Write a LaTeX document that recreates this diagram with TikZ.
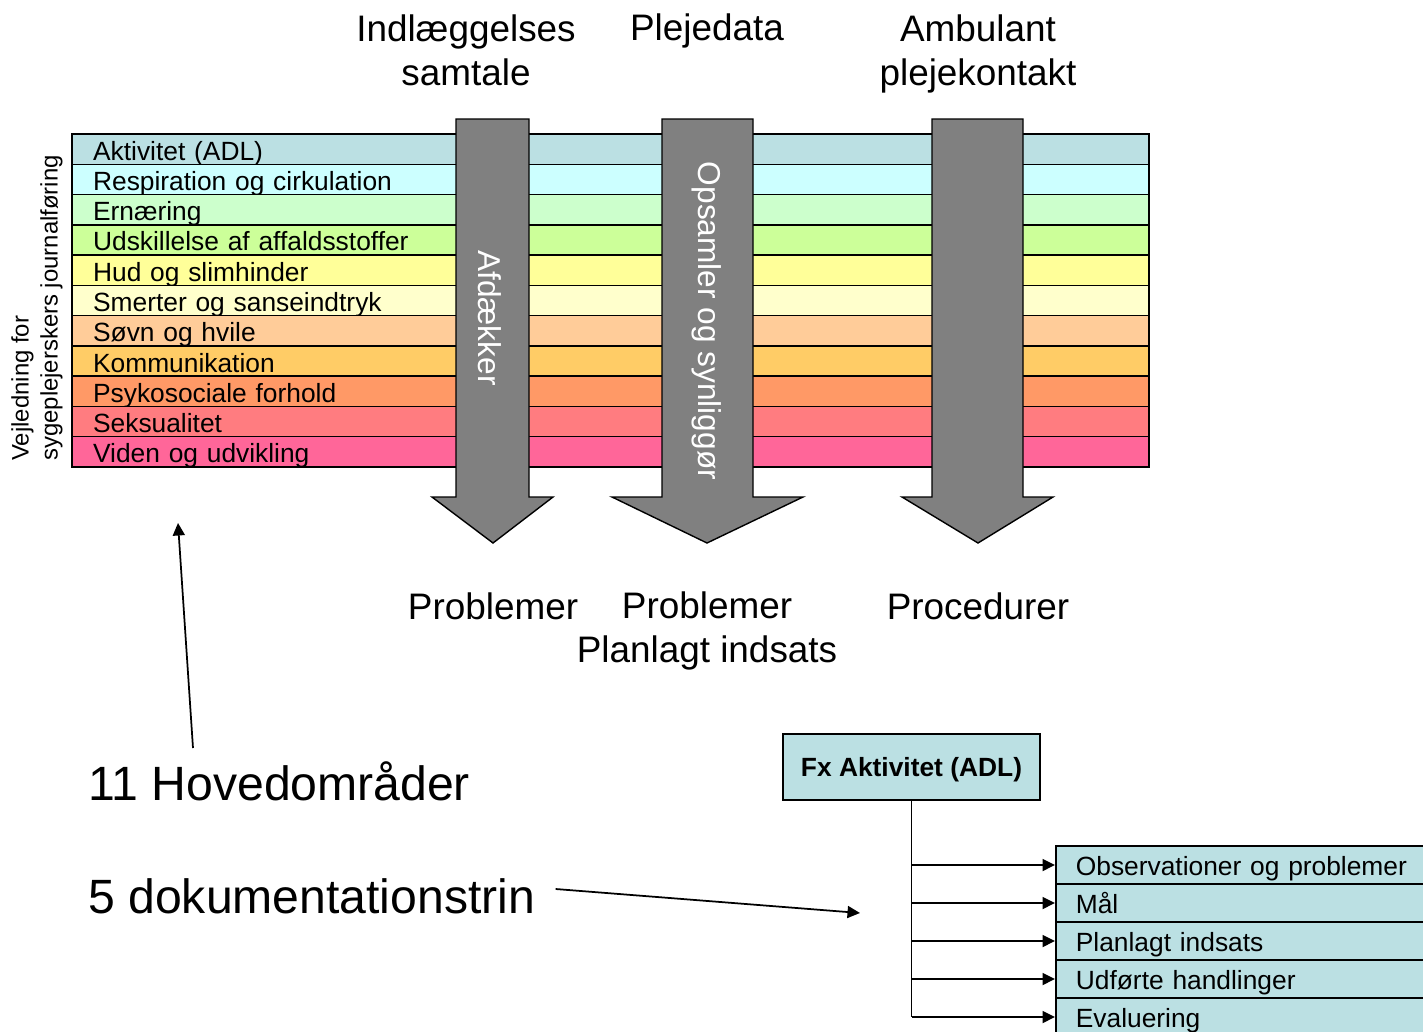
\documentclass[tikz,border=0pt]{standalone}
\usepackage{fontspec}
\setmainfont{Liberation Sans}
\usetikzlibrary{arrows.meta}

\definecolor{band1}{HTML}{BBE0E3}
\definecolor{band2}{HTML}{CCFFFF}
\definecolor{band3}{HTML}{CCFFCC}
\definecolor{band4}{HTML}{CCFF99}
\definecolor{band5}{HTML}{FFFF99}
\definecolor{band6}{HTML}{FFFFCC}
\definecolor{band7}{HTML}{FFCC99}
\definecolor{band8}{HTML}{FFCC66}
\definecolor{band9}{HTML}{FF9966}
\definecolor{band10}{HTML}{FF7C80}
\definecolor{band11}{HTML}{FF6699}
\definecolor{arrowgray}{HTML}{808080}

\begin{document}
\begin{tikzpicture}[x=0.02cm,y=-0.02cm]
        \tikzset{
            band/.style={draw=black, line width=0.8pt, minimum width=21.54cm, minimum height=0.605cm,
                text width=20.7cm, text height=12.5pt, text depth=0pt, inner xsep=0.42cm,
                inner ysep=0pt, align=left, font=\fontsize{15}{18}\selectfont},
            bigarrow/.style={draw=black, line width=0.8pt, fill=arrowgray},
            arrow_text/.style={text=white, rotate=-90, font=\fontsize{18}{21}\selectfont},
            heading/.style={align=center, font=\fontsize{21}{25}\selectfont},
            side_text/.style={rotate=90, anchor=west, align=left, inner sep=0pt,
                font=\fontsize{13.6}{16.5}\selectfont},
            big_text/.style={anchor=west, inner sep=0pt, font=\fontsize{27.4}{32}\selectfont},
            fx_box/.style={draw=black, line width=0.8pt, fill=band1, minimum width=5.14cm,
                minimum height=1.32cm, text height=11pt, text depth=0pt,
                font=\bfseries\fontsize{15}{18}\selectfont},
            stepbox/.style={draw=black, line width=1pt, fill=band1, anchor=west, minimum width=7.6cm,
                minimum height=0.75cm, text width=6.8cm, text height=12.5pt, text depth=0pt,
                inner xsep=0.4cm, inner ysep=0pt, align=left, font=\fontsize{15}{18}\selectfont},
            pointer/.style={line width=1pt, -{Triangle[length=0.25cm,width=0.24cm]}}
        }
        \useasboundingbox (0,0) rectangle (1423,1031);

        % de 11 hovedomraader
        \foreach \lbl [count=\i] in {{Aktivitet (ADL)}, {Respiration og cirkulation}, {Ernæring},
            {Udskillelse af affaldsstoffer}, {Hud og slimhinder}, {Smerter og sanseindtryk},
            {Søvn og hvile}, {Kommunikation}, {Psykosociale forhold}, {Seksualitet},
            {Viden og udvikling}}
            \node[band, fill=band\i] (band\i) at (610.5, {134+30.27*(\i-0.5)}) {\lbl};

        \node[side_text] (guide) at (37,461) {Vejledning for\\sygeplejerskers journalføring};

        % tre store pile
        \draw[bigarrow] (456,119) -- (529,119) -- (529,497) -- (553,497) -- (493,543)
            -- (432,497) -- (456,497) -- cycle;
        \draw[bigarrow] (662,119) -- (753,119) -- (753,497) -- (803,497) -- (707,543)
            -- (612,497) -- (662,497) -- cycle;
        \draw[bigarrow] (932,119) -- (1023,119) -- (1023,497) -- (1053,497) -- (978,543)
            -- (902,497) -- (932,497) -- cycle;

        \node[arrow_text] (afd) at (490,318) {Afdækker};
        \node[arrow_text] (ops) at (707,321) {Opsamler og synliggør};

        \node[heading] (indl) at (466,50) {Indlæggelses\\samtale};
        \node[heading] (pleje) at (707,31) {Plejedata};
        \node[heading] (amb) at (978,54) {Ambulant\\plejekontakt};

        \node[heading] (prob_a) at (493,606) {Problemer};
        \node[heading] (prob_b) at (707,631) {Problemer\\Planlagt indsats};
        \node[heading] (proc) at (978,606) {Procedurer};

        % forklaring nederst
        \node[big_text] (hoved) at (88,781) {11 Hovedområder};
        \node[big_text] (trin) at (88,896) {5 dokumentationstrin};

        \coordinate (hoved_tail) at (193,748);
        \coordinate (hoved_tip) at (178,523);
        \coordinate (trin_tip) at (860,913);
        \draw[pointer] (hoved_tail) -- (hoved_tip);
        \draw[pointer] ([shift={(20,-7)}]trin.east) -- (trin_tip);

        \node[fx_box] (fx) at (911.5,767) {Fx Aktivitet (ADL)};
        \foreach \txt [count=\i] in {Observationer og problemer, Mål, Planlagt indsats,
            Udførte handlinger, Evaluering}
            \node[stepbox] (step\i) at (1055, {865+38*(\i-1)}) {\txt};

        \draw[line width=1pt] (fx.south) -- (fx.south |- step5.west);
        \foreach \i in {1,...,5}
            \draw[pointer] (fx.south |- step\i.west) -- (step\i.west);
\end{tikzpicture}
\end{document}
